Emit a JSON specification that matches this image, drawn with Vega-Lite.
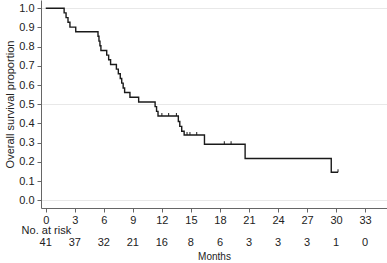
{
  "$schema": "https://vega.github.io/schema/vega-lite/v6.json",
  "padding": {"left": 4, "top": 0, "right": 0, "bottom": 0},
  "spacing": 0,
  "background": "white",
  "config": {
    "font": "Liberation Sans",
    "view": {"stroke": null},
    "axis": {"labelFont": "Liberation Sans", "titleFont": "Liberation Sans", "labelColor": "#222", "titleColor": "#222", "titleFontWeight": "normal"}
  },
  "datasets": {
    "km": [
      {"t": 0, "s": 1.0},
      {"t": 1.9, "s": 0.976},
      {"t": 2.1, "s": 0.951},
      {"t": 2.3, "s": 0.927},
      {"t": 2.5, "s": 0.902},
      {"t": 3.1, "s": 0.878},
      {"t": 5.4, "s": 0.854},
      {"t": 5.5, "s": 0.829},
      {"t": 5.6, "s": 0.805},
      {"t": 5.7, "s": 0.78},
      {"t": 6.3, "s": 0.756},
      {"t": 6.5, "s": 0.732},
      {"t": 6.7, "s": 0.707},
      {"t": 7.3, "s": 0.683},
      {"t": 7.5, "s": 0.659},
      {"t": 7.7, "s": 0.634},
      {"t": 7.85, "s": 0.61},
      {"t": 8.0, "s": 0.585},
      {"t": 8.15, "s": 0.561},
      {"t": 8.7, "s": 0.537},
      {"t": 9.6, "s": 0.512},
      {"t": 11.3, "s": 0.488},
      {"t": 11.45, "s": 0.463},
      {"t": 11.6, "s": 0.439},
      {"t": 13.7, "s": 0.41},
      {"t": 13.85, "s": 0.385},
      {"t": 14.05, "s": 0.36},
      {"t": 14.3, "s": 0.34},
      {"t": 16.4, "s": 0.292},
      {"t": 20.6, "s": 0.218},
      {"t": 29.5, "s": 0.146},
      {"t": 30.2, "s": 0.146}
    ],
    "censor": [
      {"t": 12.0, "s": 0.439},
      {"t": 12.7, "s": 0.439},
      {"t": 13.5, "s": 0.439},
      {"t": 14.6, "s": 0.34},
      {"t": 14.9, "s": 0.34},
      {"t": 15.6, "s": 0.34},
      {"t": 18.45, "s": 0.292},
      {"t": 19.15, "s": 0.292},
      {"t": 30.2, "s": 0.146}
    ],
    "risk": [
      {"t": 0, "n": 41},
      {"t": 3, "n": 37},
      {"t": 6, "n": 32},
      {"t": 9, "n": 21},
      {"t": 12, "n": 16},
      {"t": 15, "n": 8},
      {"t": 18, "n": 6},
      {"t": 21, "n": 3},
      {"t": 24, "n": 3},
      {"t": 27, "n": 3},
      {"t": 30, "n": 1},
      {"t": 33, "n": 0}
    ]
  },
  "vconcat": [
    {
      "width": 346,
      "height": 208,
      "layer": [
        {
          "data": {"name": "km"},
          "mark": {"type": "line", "interpolate": "step-after", "color": "#1a1a1a", "strokeWidth": 1.4},
          "encoding": {
            "x": {
              "field": "t", "type": "quantitative",
              "scale": {"domain": [-0.49, 35.26], "nice": false, "zero": false},
              "axis": {
                "values": [0, 3, 6, 9, 12, 15, 18, 21, 24, 27, 30, 33],
                "tickCount": 20,
                "title": null, "grid": false,
                "labelOverlap": false, "labelFlush": false,
                "domainColor": "#666", "tickColor": "#666", "tickSize": 4,
                "labelFontSize": 11, "labelPadding": 2
              }
            },
            "y": {
              "field": "s", "type": "quantitative",
              "scale": {"domain": [-0.04, 1.043], "nice": false, "zero": false},
              "axis": {
                "values": [0, 0.1, 0.2, 0.3, 0.4, 0.5, 0.6, 0.7, 0.8, 0.9, 1.0],
                "tickCount": 20,
                "format": ".1f",
                "labelOverlap": false, "labelFlush": false,
                "title": "Overall survival proportion",
                "titleFontSize": 11, "titlePadding": 3,
                "labelFontSize": 11, "labelPadding": 3,
                "domainColor": "#666", "tickColor": "#666", "tickSize": 4,
                "grid": true, "gridColor": "#e8e8e8",
                "gridOpacity": {"condition": {"test": "abs(datum.value * 2 - round(datum.value * 2)) < 0.001", "value": 1}, "value": 0}
              }
            }
          }
        },
        {
          "data": {"name": "censor"},
          "mark": {"type": "point", "shape": "M0,-1L0,0", "size": 36, "filled": false, "stroke": "#1a1a1a", "strokeWidth": 1, "opacity": 1},
          "encoding": {
            "x": {"field": "t", "type": "quantitative"},
            "y": {"field": "s", "type": "quantitative"}
          }
        }
      ]
    },
    {
      "width": 346,
      "height": 12,
      "data": {"name": "risk"},
      "title": {"text": "No. at risk", "anchor": "start", "orient": "top", "fontSize": 11, "fontWeight": "normal", "color": "#222", "offset": 1, "dx": -18, "font": "Liberation Sans"},
      "mark": {"type": "text", "fontSize": 11, "color": "#222", "font": "Liberation Sans"},
      "encoding": {
        "x": {
          "field": "t", "type": "quantitative",
          "scale": {"domain": [-0.49, 35.26], "nice": false, "zero": false},
          "axis": {"title": "Months", "labels": false, "ticks": false, "domain": false, "grid": false, "titleFontSize": 10, "titlePadding": 2}
        },
        "text": {"field": "n", "type": "quantitative"}
      }
    }
  ]
}
